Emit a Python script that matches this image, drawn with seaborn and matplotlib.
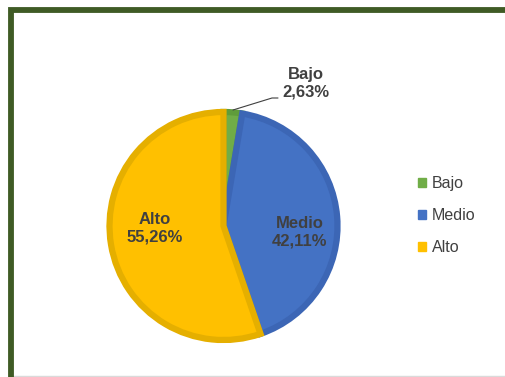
import matplotlib
matplotlib.use("Agg")
import matplotlib.pyplot as plt
import matplotlib.patches as mpatches
import matplotlib.lines as mlines
import seaborn as sns

categories = ["Bajo", "Medio", "Alto"]
values = [2.63, 42.11, 55.26]
label_texts = ["Bajo\n2,63%", "Medio\n42,11%", "Alto\n55,26%"]

sns.set_theme(style="white")
plt.rcParams['font.family'] = ['Liberation Sans', 'DejaVu Sans']

colors = ["#70AD47", "#4472C4", "#FFC000"]
edges = ["#5F9C3B", "#3C66B5", "#E5AF00"]

W, H = 506, 377
fig = plt.figure(figsize=(W / 100, H / 100), dpi=100)
fig.patch.set_facecolor("white")

# bottom faint line
fig.lines.append(mlines.Line2D([13 / W, 1], [1 - 376 / H, 1 - 376 / H],
                               transform=fig.transFigure, color="#DADADA",
                               linewidth=1.0))
# frame
frame = mpatches.Rectangle((10.5 / W, -0.2), 1.2, 1 - 10.5 / H + 0.2,
                           transform=fig.transFigure, fill=False,
                           edgecolor="#3F5B25", linewidth=4.2, zorder=2)
fig.patches.append(frame)

cx, cy, R = 223.5, 226, 116.5
ax = fig.add_axes([(cx - R) / W, (H - cy - R) / H, 2 * R / W, 2 * R / H])

wedges, _ = ax.pie(values, colors=colors, startangle=90, counterclock=False,
                   radius=1 - 2.5 / R,
                   wedgeprops=dict(linewidth=4.5))
for w, ec in zip(wedges, edges):
    w.set_edgecolor(ec)
    w.set_joinstyle("miter")
ax.set_xlim(-1, 1)
ax.set_ylim(-1, 1)
ax.set_aspect("equal")
ax.axis("off")

def px(x, y):
    return (x - cx) / R, (cy - y) / R

label_pos = [px(306, 83), px(300, 232), px(155, 228)]
for t, (x, y) in zip(label_texts, label_pos):
    ax.text(x, y, t, ha="center", va="center", fontsize=12, fontweight="bold",
            color="#404040", linespacing=1.25)

p0, p1, p2 = px(233, 110), px(272, 98), px(278, 98)
ax.plot([p0[0], p1[0], p2[0]], [p0[1], p1[1], p2[1]], color="#404040",
        linewidth=0.8, clip_on=False)

handles = [mpatches.Patch(facecolor=c, edgecolor=c) for c in colors]
fig.legend(handles, categories, loc="upper left",
           bbox_to_anchor=(404 / W, 1 - 162 / H), frameon=False,
           fontsize=11.5, handlelength=0.45, handleheight=0.45,
           handletextpad=0.4, labelspacing=1.05, labelcolor="#404040")

fig.savefig("out.png", dpi=100, facecolor="white")
